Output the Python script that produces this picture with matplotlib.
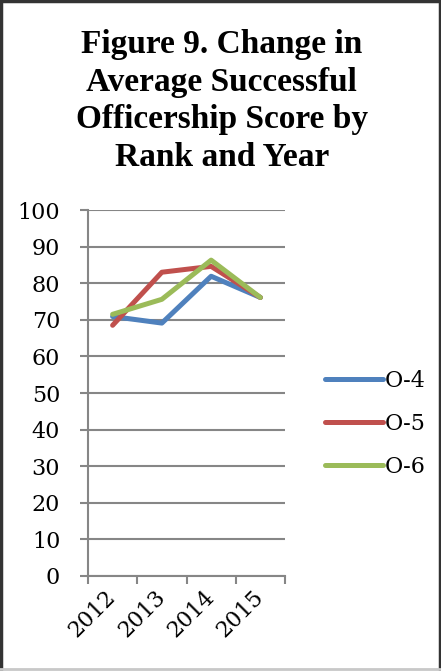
import numpy as np
import matplotlib
matplotlib.use("Agg")
import matplotlib.pyplot as plt
from matplotlib.lines import Line2D

years = ["2012", "2013", "2014", "2015"]
o4 = [70.9, 69.1, 81.9, 76.1]
o5 = [68.5, 83.0, 84.6, 76.1]
o6 = [71.5, 75.6, 86.3, 76.1]
series_names = ["O-4", "O-5", "O-6"]
colors = ["#4f81bd", "#c0504d", "#9bbb59"]

plt.rcParams['font.family'] = ['DejaVu Serif']

fig = plt.figure(figsize=(4.41, 6.71), dpi=100)
ax = fig.add_axes([88/441, 1-576/671, (285-88)/441, (576-210)/671])

x = np.arange(len(years))
for vals, name, c in zip([o4, o5, o6], series_names, colors):
    ax.plot(x, vals, color=c, lw=3.6, label=name, solid_capstyle='round', solid_joinstyle='round')

ax.set_xlim(-0.5, len(years) - 0.5)
ax.set_ylim(0, 100)
ax.set_yticks(range(0, 101, 10))
# category boundaries get the tick marks, labels sit at the centres
ax.set_xticks(np.arange(-0.5, len(years), 1.0))
ax.set_xticklabels([])
ax.set_xticks(x, minor=True)
ax.set_xticklabels(years, minor=True, rotation=45, ha='right', va='center',
                   rotation_mode='anchor', fontsize=16)
ax.tick_params(axis='x', which='minor', length=0, pad=13)
ax.tick_params(axis='x', which='major', length=6, width=1.5, color='#868686')
ax.tick_params(axis='y', length=6, width=1.5, color='#868686', labelsize=16, pad=14)
ax.grid(axis='y', color='#868686', lw=1.5)
for s in ['top', 'right']:
    ax.spines[s].set_visible(False)
for s in ['left', 'bottom']:
    ax.spines[s].set_color('#868686')
    ax.spines[s].set_linewidth(1.5)
ax.set_axisbelow(True)

fig.text(0.503, 1-101/671, "Figure 9. Change in\nAverage Successful\nOfficership Score by\nRank and Year",
         ha='center', va='center', fontsize=24, fontweight='bold', linespacing=1.27,
         family='Liberation Serif')

handles = [Line2D([0], [0], color=c, lw=3.6, solid_capstyle='round') for c in colors]
fig.legend(handles, series_names, loc='center left', bbox_to_anchor=(305/441, 1-424/671),
           frameon=False, fontsize=16, handlelength=2.6, handletextpad=0.1, labelspacing=0.95)

# outer frame
fig.add_artist(Line2D([0.002, 0.002], [0, 1], color='#333333', lw=2.5, transform=fig.transFigure))
fig.add_artist(Line2D([0, 1], [0.998, 0.998], color='#333333', lw=2.5, transform=fig.transFigure))
fig.add_artist(Line2D([0.998, 0.998], [0, 1], color='#333333', lw=2.5, transform=fig.transFigure))
fig.add_artist(Line2D([0, 1], [0.003, 0.003], color='#c8c8c8', lw=2, transform=fig.transFigure))

fig.savefig("out.png", dpi=100)
